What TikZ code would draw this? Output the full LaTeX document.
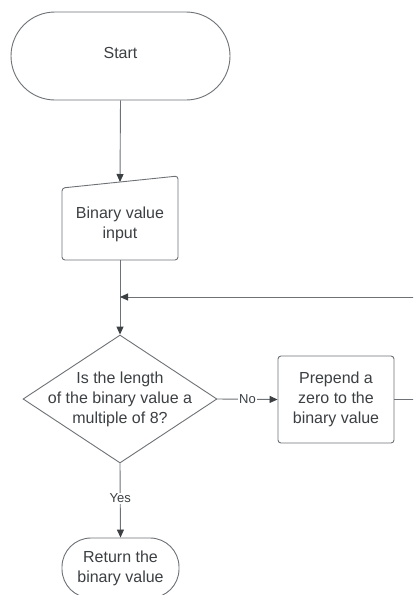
\documentclass[tikz,border=0pt]{standalone}
\usepackage{fontspec}
\setmainfont{Liberation Sans}
\usetikzlibrary{shapes.geometric,arrows.meta}
\definecolor{linegray}{HTML}{6E7276}
\definecolor{textgray}{HTML}{3C4043}
\tikzset{
  base/.style={draw=linegray, line width=0.9pt, text=textgray, align=center,
    font=\fontsize{16}{20}\selectfont, inner sep=0pt},
  terminal/.style={base, rounded corners=#1},
  procbox/.style={base, rounded corners=3pt},
  decision/.style={base, diamond},
  conn/.style={draw=linegray, line width=0.9pt,
    -{Triangle[length=8pt,width=7pt,color=textgray]}},
  plainline/.style={draw=linegray, line width=0.9pt},
  lbl/.style={fill=white, text=textgray, inner sep=1pt, font=\fontsize{13}{15}\selectfont}
}
\begin{document}
\begin{tikzpicture}[x=1pt,y=-1pt]
  \useasboundingbox (0,0) rectangle (413,595);
  \clip (0,0) rectangle (413,595);
  \fill[white] (0,0) rectangle (413,595);

  % start terminal
  \node[terminal=44pt, minimum width=219pt, minimum height=88pt] (start) at (120.5,56) {};
  \node[base, draw=none] (starttext) at (120.5,53) {Start};

  % manual input: sloped top edge, drawn around a text node
  \node[base, draw=none, minimum width=116pt, minimum height=72pt] (input) at (120,224) {Binary value\\input};
  \draw[draw=linegray, line width=0.9pt, rounded corners=3pt]
    (62,188) -- (178,176) -- (178,260) -- (62,260) -- cycle;
  \coordinate (inputtop) at (120,182);
  \coordinate (inputbot) at (120,260);

  % decision
  \node[decision, minimum width=194pt, minimum height=128pt] (dec) at (120,399) {};
  \node[base, draw=none] (dectext) at (dec) {Is the length\\of the binary value a\\multiple of 8?};

  % prepend step
  \node[procbox, minimum width=116pt, minimum height=87pt] (prep) at (336,399.5) {Prepend a\\zero to the\\binary value};

  % end terminal
  \node[terminal=29pt, minimum width=117pt, minimum height=60pt] (ret) at (120.5,568) {Return the\\binary value};

  % loop back path
  \coordinate (loopR) at (425,399.5);
  \coordinate (loopTop) at (425,297);
  \coordinate (join) at (120,297);

  % connectors
  \draw[conn] (start.south) -- (inputtop);
  \draw[conn] (inputbot) -- (dec.north);
  \draw[conn] (dec.east) -- node[lbl] {No} (prep.west);
  \draw[conn] (dec.south) -- node[lbl, pos=0.47] {Yes} (ret.north);
  \draw[plainline] (prep.east) -- (loopR) -- (loopTop);
  \draw[conn] (loopTop) -- (join);
\end{tikzpicture}
\end{document}
